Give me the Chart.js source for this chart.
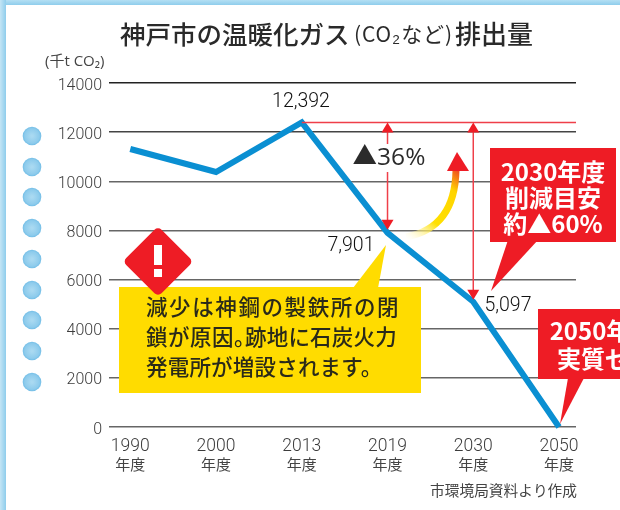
<!DOCTYPE html>
<html lang="ja"><head><meta charset="utf-8">
<style>html,body{margin:0;padding:0;background:#fff;overflow:hidden}canvas{display:block}</style>
<script src="https://cdn.jsdelivr.net/npm/chart.js@4"></script>
</head><body><canvas id="c" width="620" height="510"></canvas>
<script>
const categories = ['1990','2000','2013','2019','2030','2050'];
const tickSuffix = '年度';
const emissions = [11314, 10378, 12392, 7901, 5097, 0];
const yTicks = [0,2000,4000,6000,8000,10000,12000,14000];
const titleParts = ['神戸市の温暖化ガス','(CO₂など)','排出量'];
const unitLabel = '(千t CO₂)';
const sourceLabel = '市環境局資料より作成';
const noteLine1 = '減少は神鋼の製鉄所の閉';
const noteLine2a = '鎖が原因。';
const noteLine2b = '跡地に石炭火力';
const noteLine3 = '発電所が増設されます。';
const target2030 = ['2030年度','削減目安','約▲60%'];
const target2050 = ['2050年度','実質ゼロ'];
const dropLabel = '▲36%';
const NUM = 'Roboto,"Open Sans",sans-serif';
const SANS = '"Open Sans","Noto Sans CJK JP",sans-serif';
const JP = '"Noto Sans CJK JP",sans-serif';

function poly(ctx, pts, fill){ctx.beginPath();pts.forEach((p,i)=>i?ctx.lineTo(p[0],p[1]):ctx.moveTo(p[0],p[1]));ctx.closePath();ctx.fillStyle=fill;ctx.fill();}
function txt(ctx,s,x,y,font,color,align,sp){ctx.font=font;ctx.fillStyle=color;ctx.textAlign=align||'left';ctx.textBaseline='middle';ctx.letterSpacing=sp||'0px';ctx.fillText(s,x,y);ctx.letterSpacing='0px';}

const backdrop = {id:'backdrop',beforeDraw(ch){
  const c=ch.ctx;c.save();
  c.fillStyle='#ffffff';c.fillRect(0,0,620,510);
  const g=c.createLinearGradient(0,0,0,5);g.addColorStop(0,'#b4dff3');g.addColorStop(1,'#8fcdec');
  c.fillStyle=g;c.fillRect(0,0,620,5);
  const g2=c.createLinearGradient(0,0,6,0);g2.addColorStop(0,'#c4e5f5');g2.addColorStop(1,'#8fcdec');
  c.fillStyle=g2;c.fillRect(0,0,6,510);
  c.fillStyle='#fff';c.beginPath();c.roundRect(6,5,660,503,8);c.fill();
  [136,167,197,228,259,290,320,351,382].forEach(y=>{
    const r=c.createRadialGradient(32,y,1,32,y,9.5);r.addColorStop(0,'#a9d9f1');r.addColorStop(.75,'#8dcbec');r.addColorStop(1,'#6fbce6');
    c.fillStyle=r;c.beginPath();c.arc(32,y,9.3,0,Math.PI*2);c.fill();
  });
  c.restore();
}};

const overlay = {id:'overlay',afterDatasetsDraw(ch){
  const c=ch.ctx,X=ch.scales.x,Y=ch.scales.y;c.save();
  const RED='#ee1c25',LR='#ef3f49',DARK='#2b2b2b';
  const yTop=Y.getPixelForValue(emissions[2]);
  const x13=X.getPixelForValue(2),x19=X.getPixelForValue(3),x30=X.getPixelForValue(4),x50=X.getPixelForValue(5);
  const y19=Y.getPixelForValue(emissions[3]),y30=Y.getPixelForValue(emissions[4]),y50=Y.getPixelForValue(emissions[5]);
  // reference line
  c.strokeStyle=LR;c.lineWidth=1.5;c.beginPath();c.moveTo(x13,yTop);c.lineTo(X.right,yTop);c.stroke();
  // double arrows
  [[x19,y19-3],[x30,y30-2]].forEach(([x,yb])=>{
    c.strokeStyle=LR;c.lineWidth=1.5;c.beginPath();c.moveTo(x,yTop+8);c.lineTo(x,yb-8);c.stroke();
    poly(c,[[x,yTop],[x-6,yTop+10],[x+6,yTop+10]],RED);
    poly(c,[[x,yb],[x-6,yb-10],[x+6,yb-10]],RED);
  });
  // ▲36%
  c.fillStyle='#fff';c.fillRect(x19-36,144,72,28);
  txt(c,dropLabel,389,158,'24.5px '+SANS,DARK,'center');
  // curved arrow
  const g=c.createLinearGradient(405,238,458,170);
  g.addColorStop(0,'rgba(255,255,255,0.2)');g.addColorStop(.35,'#ffe000');g.addColorStop(.78,'#ffd400');g.addColorStop(1,'#f04a20');
  c.strokeStyle=g;c.lineWidth=7;c.beginPath();c.moveTo(406,237);c.quadraticCurveTo(455,228,456,170);c.stroke();
  poly(c,[[457,152],[447,171],[469,171]],RED);
  // value labels
  const vf='300 19.5px '+NUM;
  txt(c,emissions[2].toLocaleString('en-US'),301,102,vf,'#111','center');
  txt(c,emissions[3].toLocaleString('en-US'),351,246,vf,'#111','center');
  txt(c,emissions[4].toLocaleString('en-US'),508,306,vf,'#111','center');
  // year suffix under the tick labels
  categories.forEach((_,i)=>txt(c,tickSuffix,X.getPixelForValue(i),464,'15px '+JP,'#444','center'));
  // yellow note
  poly(c,[[353,288],[378,288],[386,245]],'#ffdc00');
  c.fillStyle='#ffdc00';c.fillRect(119,287,302,106);
  const nf='500 21.5px '+JP,nc='#2a2a1a';
  txt(c,noteLine1,146,307,nf,nc,'left','1.6px');
  txt(c,noteLine2a,146,337,nf,nc,'left','0.5px');
  txt(c,noteLine2b,245,337,nf,nc,'left','0.2px');
  txt(c,noteLine3,146,367,nf,nc,'left','0.2px');
  // warning diamond
  c.save();c.translate(158,261.5);c.rotate(Math.PI/4);c.fillStyle=RED;c.beginPath();c.roundRect(-25,-25,50,50,5);c.fill();c.restore();
  c.fillStyle='#fff';c.fillRect(154,245,8,20);c.fillRect(154,269,8,8);
  // 2030 box
  poly(c,[[508,240],[538,240],[491,291]],RED);
  c.fillStyle=RED;c.fillRect(490,148,126,94);
  target2030.forEach((s,i)=>txt(c,s,553,[172,198,224][i],'700 24px '+JP,'#fff','center'));
  // 2050 box
  poly(c,[[568,378],[584,378],[x50+1,y50-3]],RED);
  c.fillStyle=RED;c.fillRect(538,309,90,70);
  target2050.forEach((s,i)=>txt(c,s,[602,605][i],[331,359][i],'700 24px '+JP,'#fff','center'));
  // headings
  txt(c,titleParts[0],120,34,'500 25.5px '+JP,'#2a2a2a');
  txt(c,titleParts[1],354,34,'400 21px '+JP,'#2a2a2a','left','0.9px');
  txt(c,titleParts[2],455,34,'500 26px '+JP,'#2a2a2a');
  txt(c,unitLabel,45,62,'15px '+SANS,'#444');
  txt(c,sourceLabel,577,490,'14.7px '+JP,'#444','right');
  c.restore();
}};

new Chart(document.getElementById('c'),{
  type:'line',
  data:{datasets:[{data:emissions.map((v,i)=>({x:i,y:v})),borderColor:'#0a8fd2',borderWidth:6,pointRadius:0,tension:0,borderCapStyle:'butt',borderJoinStyle:'miter',clip:false}]},
  plugins:[backdrop,overlay],
  options:{
    responsive:false,animation:false,
    layout:{padding:{top:83,right:44,left:0,bottom:0}},
    plugins:{legend:{display:false},title:{display:false},tooltip:{enabled:false}},
    scales:{
      x:{type:'linear',min:-0.248,max:5.198,
        afterBuildTicks(a){a.ticks=categories.map((_,i)=>({value:i}));},
        afterFit(a){a.height=83;},
        ticks:{autoSkip:false,maxRotation:0,color:'#3c3c3c',padding:1,font:{family:NUM,size:17.5,weight:'300'},callback:(v)=>categories[v]},
        grid:{display:false},border:{display:false}},
      y:{min:0,max:14000,
        afterBuildTicks(a){a.ticks=yTicks.map(v=>({value:v}));},
        afterFit(a){a.width=109;},
        ticks:{color:'#3c3c3c',padding:7,font:{family:NUM,size:16,weight:'300',lineHeight:'5px'},callback:(v)=>['',String(v)]},
        grid:{drawTicks:false,lineWidth:1.5,color:c=>c.tick.value>=14000?'#222':(c.tick.value>=12000?'#444':'#666')},
        border:{display:false}}
    }
  }
});
</script></body></html>
